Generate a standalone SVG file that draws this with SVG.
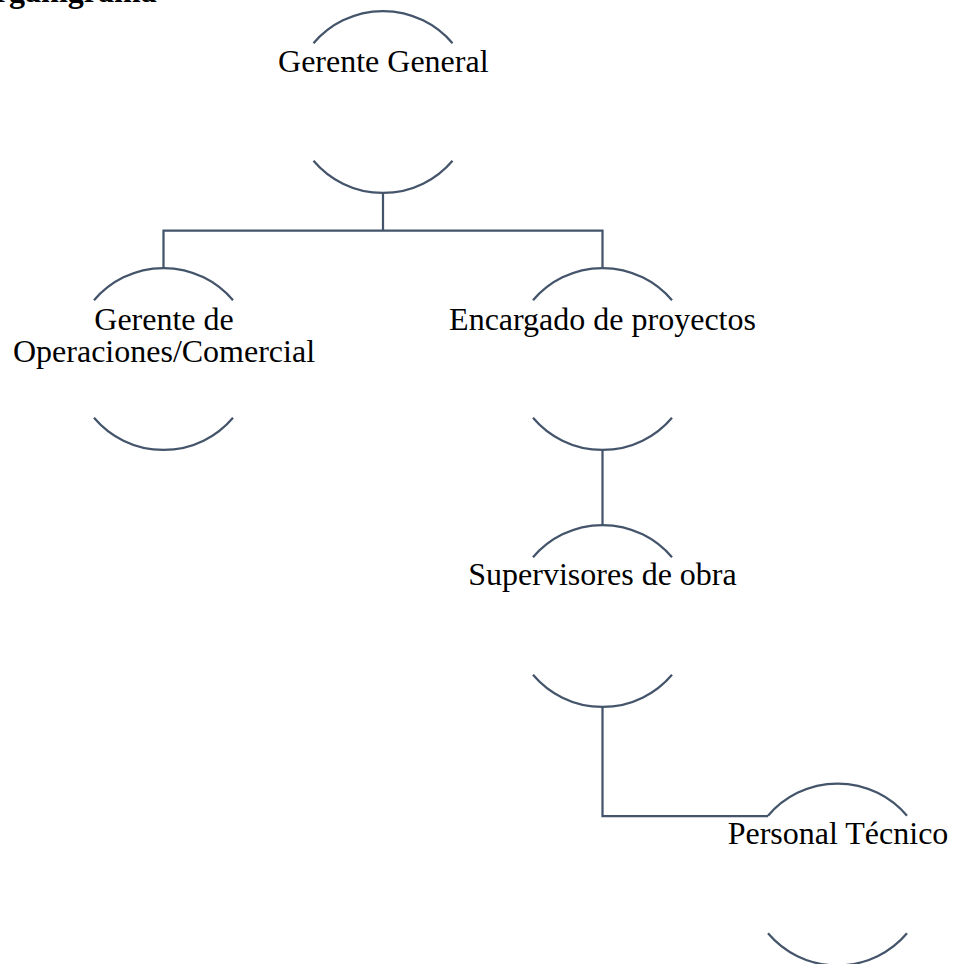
<svg xmlns="http://www.w3.org/2000/svg" width="954" height="964" viewBox="0 0 954 964">
<style>
.arc{fill:none;stroke:#44546A;stroke-width:2.25}
.con{fill:none;stroke:#44546A;stroke-width:2.25}
.lbl{font-family:"Liberation Serif","Times New Roman",serif;font-size:32px;fill:#000;text-anchor:middle}
.title{font-family:"Liberation Serif","Times New Roman",serif;font-size:32px;font-weight:bold;fill:#000}
</style>
<rect width="954" height="964" fill="#fff"/>
<text class="title" x="-30" y="1.5">Organigrama</text>
<g id="connectors">
<path class="con" d="M383 193 V230.5"/>
<path class="con" d="M163.5 268 V230.5 H602.5 V268"/>
<path class="con" d="M602.5 450 V525"/>
<path class="con" d="M602.5 707 V816 H768"/>
</g>
<g id="gerente-general">
<path class="arc" d="M313.5 43.3 A91 91 0 0 1 452.5 43.3"/>
<path class="arc" d="M313.5 160.7 A91 91 0 0 0 452.5 160.7"/>
<text class="lbl" x="383.3" y="72">Gerente General</text>
</g>
<g id="gerente-operaciones">
<path class="arc" d="M94 300.3 A91 91 0 0 1 233 300.3"/>
<path class="arc" d="M94 417.7 A91 91 0 0 0 233 417.7"/>
<text class="lbl" x="164" y="330">Gerente de</text>
<text class="lbl" x="164" y="361.7">Operaciones/Comercial</text>
</g>
<g id="encargado-proyectos">
<path class="arc" d="M533 300.3 A91 91 0 0 1 672 300.3"/>
<path class="arc" d="M533 417.7 A91 91 0 0 0 672 417.7"/>
<text class="lbl" x="602.5" y="329.5">Encargado de proyectos</text>
</g>
<g id="supervisores-obra">
<path class="arc" d="M533 557.3 A91 91 0 0 1 672 557.3"/>
<path class="arc" d="M533 674.7 A91 91 0 0 0 672 674.7"/>
<text class="lbl" x="602.5" y="585">Supervisores de obra</text>
</g>
<g id="personal-tecnico">
<path class="arc" d="M768 815.8 A91 91 0 0 1 907 815.8"/>
<path class="arc" d="M768 933.2 A91 91 0 0 0 907 933.2"/>
<text class="lbl" x="838" y="844">Personal Técnico</text>
</g>
</svg>
